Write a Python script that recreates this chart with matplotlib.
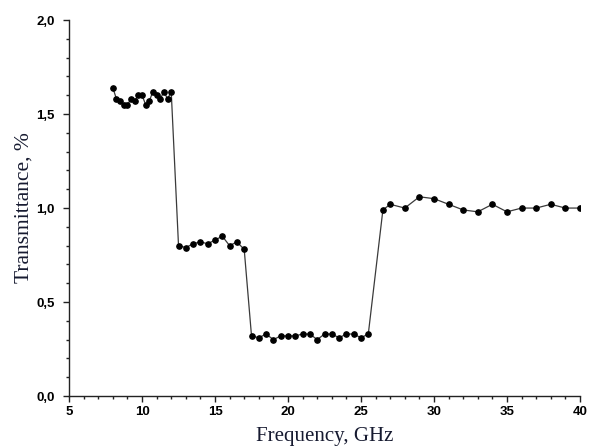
import matplotlib
matplotlib.use("Agg")
import matplotlib.pyplot as plt
from matplotlib.ticker import MultipleLocator, FuncFormatter

freq = [8.0, 8.25, 8.5, 8.75, 9.0, 9.25, 9.5, 9.75, 10.0, 10.25, 10.5, 10.75,
        11.0, 11.25, 11.5, 11.75, 12.0,
        12.5, 13.0, 13.5, 14.0, 14.5, 15.0, 15.5, 16.0, 16.5, 17.0,
        17.5, 18.0, 18.5, 19.0, 19.5, 20.0, 20.5, 21.0, 21.5, 22.0, 22.5,
        23.0, 23.5, 24.0, 24.5, 25.0, 25.5,
        26.5, 27.0, 28.0, 29.0, 30.0, 31.0, 32.0, 33.0, 34.0, 35.0, 36.0,
        37.0, 38.0, 39.0, 40.0]
trans = [1.64, 1.58, 1.57, 1.55, 1.55, 1.58, 1.57, 1.60, 1.60, 1.55, 1.57, 1.62,
         1.60, 1.58, 1.62, 1.58, 1.62,
         0.80, 0.79, 0.81, 0.82, 0.81, 0.83, 0.85, 0.80, 0.82, 0.78,
         0.32, 0.31, 0.33, 0.30, 0.32, 0.32, 0.32, 0.33, 0.33, 0.30, 0.33,
         0.33, 0.31, 0.33, 0.33, 0.31, 0.33,
         0.99, 1.02, 1.00, 1.06, 1.05, 1.02, 0.99, 0.98, 1.02, 0.98, 1.00,
         1.00, 1.02, 1.00, 1.00]

x_label = "Frequency, GHz"
y_label = "Transmittance, %"

fig = plt.figure(figsize=(5.9, 4.46), dpi=100)
ax = fig.add_axes([0.117, 0.112, 0.866, 0.843])

ax.plot(freq, trans, color="#3a3a3a", linewidth=0.9, marker="o",
        markersize=3.8, markerfacecolor="black", markeredgecolor="black",
        clip_on=True)

ax.set_xlim(5, 40)
ax.set_ylim(0, 2.0)
ax.xaxis.set_major_locator(MultipleLocator(5))
ax.xaxis.set_minor_locator(MultipleLocator(1))
ax.yaxis.set_major_locator(MultipleLocator(0.5))
ax.yaxis.set_minor_locator(MultipleLocator(0.1))
ax.yaxis.set_major_formatter(FuncFormatter(lambda v, p: f"{v:.1f}".replace(".", ",")))
ax.xaxis.set_major_formatter(FuncFormatter(lambda v, p: f"{int(round(v))}"))

for s in ["top", "right"]:
    ax.spines[s].set_visible(False)
for s in ["left", "bottom"]:
    ax.spines[s].set_linewidth(1.0)
    ax.spines[s].set_color("#222222")

ax.tick_params(axis="both", which="major", direction="out", length=4.5,
               width=1.0, color="#222222")
ax.tick_params(axis="both", which="minor", direction="out", length=2.5,
               width=1.0, color="#222222")
ax.tick_params(axis="y", which="major", pad=6)
ax.tick_params(axis="x", which="major", pad=3)

for lab in ax.get_xticklabels() + ax.get_yticklabels():
    lab.set_fontfamily("Liberation Sans")
    lab.set_fontweight("bold")
    lab.set_fontsize(9.5)

ax.set_xlabel(x_label, fontfamily="Liberation Serif", fontsize=15,
              color="#161a30", labelpad=6)
ax.set_ylabel(y_label, fontfamily="Liberation Serif", fontsize=15.5,
              color="#161a30", labelpad=2)

fig.savefig("out.png", dpi=100)
